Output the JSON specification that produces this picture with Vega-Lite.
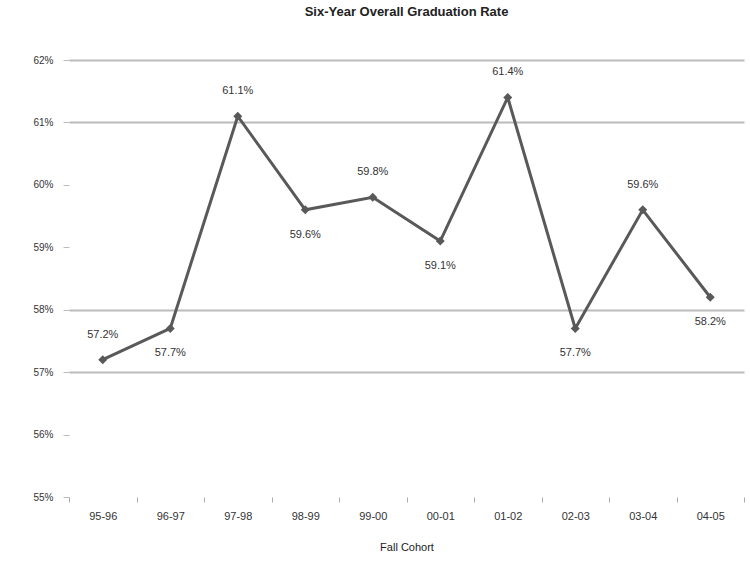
{
  "$schema": "https://vega.github.io/schema/vega-lite/v6.json",
  "width": 675,
  "height": 437,
  "autosize": {"type": "none"},
  "padding": {"left": 69, "top": 60, "right": 6, "bottom": 86},
  "background": "white",
  "title": {"text": "Six-Year Overall Graduation Rate", "fontSize": 13, "fontWeight": "bold", "font": "Liberation Sans", "color": "#222", "offset": 36, "anchor": "middle"},
  "config": {"view": {"stroke": null}, "font": "Liberation Sans"},
  "data": {"values": [
    {"cohort": "95-96", "rate": 0.572},
    {"cohort": "96-97", "rate": 0.577},
    {"cohort": "97-98", "rate": 0.611},
    {"cohort": "98-99", "rate": 0.596},
    {"cohort": "99-00", "rate": 0.598},
    {"cohort": "00-01", "rate": 0.591},
    {"cohort": "01-02", "rate": 0.614},
    {"cohort": "02-03", "rate": 0.577},
    {"cohort": "03-04", "rate": 0.596},
    {"cohort": "04-05", "rate": 0.582}
  ]},
  "encoding": {
    "x": {"field": "cohort", "type": "ordinal", "sort": null, "bandPosition": 0.5,
      "scale": {"type": "band", "paddingInner": 0, "paddingOuter": 0},
      "axis": {"title": "Fall Cohort", "titleFontSize": 11, "titleFontWeight": "normal", "titleColor": "#222", "titlePadding": 20,
        "labelFontSize": 11, "labelColor": "#333", "labelPadding": 8, "labelAngle": 0,
        "domain": false, "ticks": true, "tickBand": "extent", "tickSize": 5, "tickColor": "#aaa", "grid": false}},
    "y": {"field": "rate", "type": "quantitative",
      "scale": {"domain": [0.55, 0.62], "nice": false, "zero": false},
      "axis": {"title": null, "format": ".0%", "values": [0.55, 0.56, 0.57, 0.58, 0.59, 0.6, 0.61, 0.62],
        "labelFontSize": 10, "labelColor": "#333", "labelPadding": 10, "domain": false,
        "ticks": true, "tickSize": 6, "tickColor": "#bbb",
        "grid": true, "gridColor": "#bbb", "gridWidth": 2,
        "gridOpacity": {"condition": {"test": "(datum.value > 0.565 && datum.value < 0.585) || datum.value > 0.605", "value": 1}, "value": 0}}}
  },
  "layer": [
    {"mark": {"type": "line", "color": "#595959", "strokeWidth": 3,
      "point": {"shape": "diamond", "size": 80, "filled": true, "color": "#595959"}}},
    {"transform": [{"filter": {"field": "cohort", "oneOf": ["95-96", "97-98", "99-00", "01-02", "03-04"]}}],
      "mark": {"type": "text", "dy": -25, "fontSize": 11, "color": "#333"},
      "encoding": {"text": {"field": "rate", "type": "quantitative", "format": ".1%"}}},
    {"transform": [{"filter": {"field": "cohort", "oneOf": ["96-97", "98-99", "00-01", "02-03", "04-05"]}}],
      "mark": {"type": "text", "dy": 25, "fontSize": 11, "color": "#333"},
      "encoding": {"text": {"field": "rate", "type": "quantitative", "format": ".1%"}}}
  ]
}
